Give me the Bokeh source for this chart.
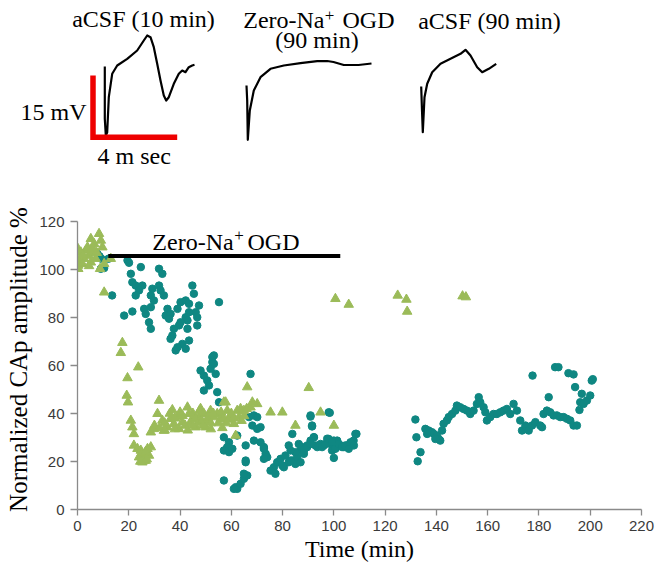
from bokeh.plotting import figure
from bokeh.models import Range1d, Label
from bokeh.embed import file_html
from bokeh.resources import INLINE

# ---------------- data ----------------
teal_x = [7.8, 8.6, 9.3, 9.1, 10.4, 12.1, 13.5,
          19.5, 20.1, 24.7, 20.8, 31.8, 33.1,
          21.4, 22.7, 25.3, 24.0, 29.2, 31.8, 32.4,
          22.7, 28.6, 29.8, 33.7, 18.2, 21.4, 26.0, 26.6, 28.6, 27.9, 28.6,
          35.1, 34.4, 36.3, 35.7, 39.0, 40.2, 42.2, 43.5, 44.8, 45.4, 47.4, 46.1, 43.5, 42.2, 42.9,
          46.7, 46.7, 40.2, 39.6, 37.6, 37.0, 36.3, 42.9, 43.5, 40.9, 39.0, 38.3, 42.2, 55.2,
          53.2, 52.6, 52.6, 53.2, 51.9, 48.0, 49.3, 67.5,
          53.9, 50.6, 51.3, 49.3, 54.5, 55.2,
          68.8, 68.2, 70.1, 71.4, 57.1, 59.1, 58.4, 57.1, 59.1, 60.4, 62.3, 65.6, 65.6, 71.4, 72.7,
          73.4, 74.0, 76.6, 75.3, 77.2, 57.1, 61.7, 62.3, 63.6, 64.9, 66.2,
          68.8, 72.7, 72.7, 65.6, 64.9, 61.0, 66.9, 70.1,
          77.9, 79.2, 81.1, 80.5, 82.4, 83.8, 85.0, 85.7, 87.0, 87.6, 88.3, 89.6, 90.9, 92.2, 92.8,
          93.5, 94.8, 96.1, 97.4, 98.7, 100.0, 101.3, 102.6, 103.9, 105.2, 106.5, 107.7, 108.8,
          90.9, 91.5, 98.0, 100.0, 99.3, 83.8, 82.4, 86.3, 85.0, 83.1, 87.0, 100.0, 79.9, 83.1,
          88.3, 89.6, 90.9, 92.2, 94.1, 95.4, 96.7, 98.0, 99.3, 100.6, 101.9, 103.2, 104.5, 105.8,
          106.5, 107.8, 108.4, 90.9, 91.5, 98.4,
          131.8, 132.2, 133.8, 132.7, 135.7, 137.0, 138.3, 139.0, 140.2, 140.9, 141.5, 139.6,
          142.8, 144.1, 136.4, 142.2,
          144.8, 146.1, 147.4, 148.0, 149.3, 150.6, 151.9, 153.2, 154.5, 155.8, 156.5, 157.1,
          158.4, 159.1, 159.7, 161.0, 162.3, 163.6, 164.9, 166.2, 167.5, 168.8, 170.1, 171.4,
          172.7, 173.4, 174.7, 176.0, 177.3, 178.6, 180.5, 181.2, 181.8, 183.1, 183.8, 184.4,
          185.7, 187.0, 188.3, 189.6, 190.9, 192.2, 193.5, 194.8,
          194.1, 196.7, 195.8, 196.1, 197.4, 198.7, 200.0, 200.6,
          177.5, 186.3, 187.6, 191.5, 193.5, 201.0]
teal_y = [106.5, 105.5, 104.5, 100.3, 100.6, 104.5, 89.2,
          103.8, 102.8, 101.0, 98.2, 100.3, 98.2,
          94.7, 93.3, 93.3, 91.3, 92.0, 93.3, 91.3,
          89.2, 89.2, 87.1, 89.2, 80.8, 82.5, 83.6, 81.5, 84.3, 78.0, 75.3,
          83.6, 80.8, 81.5, 79.5, 83.6, 86.4, 87.1, 85.7, 93.3, 89.9, 85.0, 82.2, 82.2, 80.1, 78.8,
          80.1, 76.7, 78.0, 76.7, 75.3, 72.5, 71.1, 75.3, 70.4, 69.0, 67.6, 66.3, 67.0, 86.4,
          64.2, 61.4, 63.5, 60.7, 58.6, 57.9, 55.8, 56.5,
          56.5, 53.8, 51.7, 49.6, 48.9, 44.7,
          39.2, 35.0, 33.6, 34.3, 30.1, 28.0, 26.0, 24.6, 23.9, 25.3, 30.8, 26.7, 20.4, 28.0, 26.0,
          23.2, 21.8, 17.6, 16.2, 14.9, 12.1, 9.3, 8.6, 10.7, 12.8, 14.2,
          28.7, 25.3, 21.1, 19.7, 14.9, 8.6, 38.5, 38.5,
          19.7, 21.1, 22.5, 17.6, 19.7, 20.4, 19.0, 21.8, 24.6, 26.0, 23.2, 26.7, 28.7, 30.1, 26.7,
          26.0, 27.3, 26.7, 29.5, 27.3, 28.7, 28.7, 26.7, 26.0, 26.7, 27.3, 28.7, 31.5,
          38.7, 34.6, 40.5, 25.3, 24.6, 31.5, 26.7, 27.3, 23.9, 24.6, 19.7, 21.5, 18.3, 20.4,
          24.6, 26.0, 27.3, 30.1, 26.7, 26.0, 27.3, 29.4, 28.0, 25.3, 27.3, 26.0, 26.7, 25.3,
          28.0, 26.7, 31.5, 39.2, 35.0, 40.3,
          37.5, 30.1, 23.9, 20.1, 33.6, 32.9, 32.2, 31.5, 30.8, 29.4, 28.7, 29.4,
          35.7, 37.1, 31.5, 32.9,
          38.5, 39.8, 41.2, 43.3, 42.6, 41.9, 41.2, 39.8, 41.2, 44.0, 46.8, 44.7,
          42.6, 40.5, 37.1, 38.5, 39.8, 39.8, 40.5, 41.2, 41.9, 39.8, 44.0, 41.2,
          37.1, 32.9, 35.0, 32.9, 35.0, 36.4, 35.0, 34.3, 39.8, 41.2, 46.8, 40.5,
          39.2, 39.2, 38.5, 38.5, 37.8, 37.1, 35.0, 35.0,
          51.0, 48.2, 41.5, 44.7, 44.0, 45.4, 47.5, 53.7,
          55.8, 59.3, 59.3, 56.8, 56.3, 54.3]

green_x = [0.2, 1.3, 0.6, 0.3, 3.2, 4.5, 5.2, 6.5, 8.4, 9.1, 9.7, 2.6, 5.2, 7.1, 8.8,
           10.4, 13.0, 10.4, 1.9, 0.3, 5.8, 3.9, 2.0, 7.5, 4.5, 6.0,
           17.5, 16.9, 23.7, 19.5, 19.2, 19.7, 20.8, 21.4, 22.0, 22.0, 23.4, 25.3, 26.0, 24.7,
           27.3, 28.6, 24.0, 25.3, 26.6, 27.9, 25.0, 26.5, 24.5, 27.0,
           28.6, 29.8, 31.2, 31.8, 33.1, 33.7, 35.1, 36.3, 37.6, 39.0, 39.6, 40.9, 42.9, 43.5,
           44.8, 46.1, 47.4, 48.0, 49.3, 50.0, 50.6, 51.9, 53.2, 54.5, 55.8, 57.1, 58.4, 59.7,
           61.0, 61.7, 62.3, 63.6, 64.9, 66.2, 67.5, 70.1, 68.2, 75.3, 79.9, 85.0, 90.2, 94.8,
           100.0, 57.8,
           34.0, 36.0, 38.0, 41.0, 42.0, 44.0, 45.0, 46.0, 47.0, 48.5, 49.0, 51.0, 52.0, 53.0,
           55.0, 56.0, 57.0, 58.0, 59.0, 60.0, 61.0, 63.0, 64.0, 65.0, 66.0, 37.0, 30.0, 32.0,
           34.0, 38.0, 43.0, 45.0, 52.0, 40.0, 47.5, 56.5,
           100.6, 105.8, 124.9, 128.3, 128.6, 150.2, 151.5]
green_y = [108.6, 107.2, 103.8, 101.7, 107.9, 105.8, 112.8, 110.7, 114.9, 112.1, 109.3, 104.5, 103.0, 104.5, 100.3,
           102.4, 104.5, 90.5, 102.4, 100.3, 107.2, 109.3, 106.0, 107.0, 101.5, 109.0,
           69.5, 65.3, 59.3, 54.8, 47.5, 44.7, 37.1, 34.3, 31.5, 26.7, 25.3, 22.5, 20.4, 24.6,
           25.3, 26.0, 21.8, 19.7, 20.4, 22.5, 23.5, 24.0, 20.0, 21.0,
           32.2, 33.6, 39.9, 45.4, 37.1, 32.9, 34.3, 37.8, 35.7, 38.5, 33.6, 36.4, 42.6, 39.9,
           37.8, 34.3, 38.5, 42.0, 39.9, 34.3, 37.1, 41.2, 38.5, 39.9, 37.8, 44.7, 41.2, 39.2,
           35.7, 30.8, 41.2, 42.0, 41.2, 51.0, 42.6, 44.0, 44.7, 40.5, 40.5, 35.0, 50.7, 40.5,
           35.0, 44.7,
           36.0, 40.0, 38.0, 39.0, 35.0, 36.0, 40.0, 38.0, 36.0, 37.0, 35.0, 38.5, 36.0, 40.0,
           36.0, 40.5, 38.0, 36.0, 37.5, 40.0, 38.0, 38.5, 37.0, 39.0, 42.0, 41.5, 35.0, 34.0,
           33.0, 33.5, 33.0, 35.0, 33.5, 40.5, 41.0, 34.0,
           87.8, 85.4, 89.2, 87.5, 82.5, 88.9, 88.5]

x_ticks = [0, 20, 40, 60, 80, 100, 120, 140, 160, 180, 200, 220]
y_ticks = [0, 20, 40, 60, 80, 100, 120]

ogd_start, ogd_end, ogd_level = 12, 102.5, 105.6

# example CAP traces for the inset panel (pixel units of the sketch panel)
trace1_x = [104.3, 104.3, 105.3, 106.7, 108.3, 111.7, 116.7, 126.7, 136.7, 143.3, 146.7, 150.0,
            153.3, 156.7, 160.0, 163.3, 165.7, 168.3, 173.3, 178.3, 181.7, 185.0, 188.3, 191.7, 194.0]
trace1_y = [66.0, 118.3, 135.0, 131.7, 96.7, 73.3, 65.0, 58.3, 50.0, 40.0, 35.0, 36.7,
            46.7, 63.3, 80.0, 95.0, 100.0, 96.7, 83.3, 73.3, 70.0, 71.7, 66.7, 65.0, 64.3]
trace2_x = [246.0, 246.7, 247.3, 249.3, 253.3, 260.0, 270.0, 283.3, 300.0, 316.7, 326.7, 333.0, 343.3, 358.0, 371.0]
trace2_y = [85.0, 100.0, 139.3, 110.0, 90.0, 76.7, 68.3, 65.0, 62.7, 60.7, 60.5, 61.5, 64.5, 64.5, 63.0]
trace3_x = [420.7, 421.5, 422.3, 424.0, 426.7, 431.7, 440.0, 450.0, 460.0, 465.0, 470.0, 476.7, 481.7, 488.3, 495.7]
trace3_y = [86.0, 110.0, 131.7, 96.7, 83.3, 71.7, 63.3, 58.3, 53.3, 49.3, 55.0, 66.7, 71.7, 68.3, 63.3]
scale_x = [92.5, 92.5, 176.7]
scale_y = [75.0, 136.8, 136.8]

TEAL = "#0f8782"
GREEN = "#9bbb59"
SERIF = "Liberation Serif"
SANS = "Liberation Sans"
W = 659
TOP_H = 190
BOT_H = 379

# ---------------- top panel: example traces ----------------
top = figure(width=W, height=TOP_H, x_range=Range1d(0, W), y_range=Range1d(TOP_H, 0),
             output_backend="svg", toolbar_location=None, min_border=0,
             x_axis_location=None, y_axis_location=None)
top.grid.visible = False
top.outline_line_color = None
top.background_fill_color = None
top.border_fill_color = None

for tx, ty in [(trace1_x, trace1_y), (trace2_x, trace2_y), (trace3_x, trace3_y)]:
    top.line(tx, ty, line_color="black", line_width=2.2, line_join="round")
top.line(scale_x, scale_y, line_color="#ee0000", line_width=5.5, line_join="miter")

def ttext(fig, x, y, t, align="center", size="24px", baseline="middle"):
    fig.add_layout(Label(x=x, y=y, text=t, text_align=align, text_baseline=baseline,
                         text_font=SERIF, text_font_size=size, text_color="black"))

# (y = vertical middle of each text line, sketch-panel pixels)
ttext(top, 143, 18, "aCSF (10 min)")
ttext(top, 324, 19.5, "Zero-Na", align="right")
ttext(top, 329, 15, "+", size="17px")
ttext(top, 342, 19.5, "OGD", align="left")
ttext(top, 316.5, 39, "(90 min)")
ttext(top, 489, 20, "aCSF (90 min)")
ttext(top, 86, 111, "15 mV", align="right")
ttext(top, 97, 155, "4 m sec", align="left")

# ---------------- bottom panel: scatter ----------------
p = figure(width=W, height=BOT_H, x_range=Range1d(0, 220), y_range=Range1d(0, 125),
           output_backend="svg", toolbar_location=None,
           min_border_left=77, min_border_right=18, min_border_top=19, min_border_bottom=60)
p.grid.visible = False
p.outline_line_color = None

p.scatter(teal_x, teal_y, marker="circle", size=7.5, fill_color=TEAL, line_color=TEAL)
p.scatter(green_x, green_y, marker="triangle", size=9.5, fill_color=GREEN, line_color=GREEN)

p.segment(x0=[ogd_start], y0=[ogd_level], x1=[ogd_end], y1=[ogd_level],
          line_color="black", line_width=4)
ttext(p, 60.9, 111.6, "Zero-Na", align="right")
ttext(p, 63.0, 114.3, "+", size="17px")
ttext(p, 66.3, 111.6, "OGD", align="left")

p.xaxis.ticker = x_ticks
p.yaxis.ticker = y_ticks
p.xaxis.bounds = (0, 220)
p.yaxis.bounds = (0, 120)
for ax in (p.xaxis, p.yaxis):
    ax.axis_line_color = "#8a8a8a"
    ax.axis_line_width = 1.3
    ax.major_tick_line_color = "#8a8a8a"
    ax.major_tick_line_width = 1.3
    ax.major_tick_in = 0
    ax.minor_tick_line_color = None
    ax.major_label_text_font = SANS
    ax.major_label_text_font_size = "15px"
    ax.major_label_text_color = "#3a3a3a"
    ax.axis_label_text_font = SERIF
    ax.axis_label_text_font_style = "normal"
    ax.axis_label_text_color = "black"
p.xaxis.major_tick_out = 6
p.yaxis.major_tick_out = 7
p.xaxis.axis_label = "Time (min)"
p.yaxis.axis_label = "Normalized CAp amplitude %"
p.xaxis.axis_label_text_font_size = "24px"
p.yaxis.axis_label_text_font_size = "25px"
p.xaxis.major_label_standoff = 5
p.yaxis.major_label_standoff = 6
p.xaxis.axis_label_standoff = 2
p.yaxis.axis_label_standoff = 4

open("out.html", "w").write(file_html([top, p], INLINE))
